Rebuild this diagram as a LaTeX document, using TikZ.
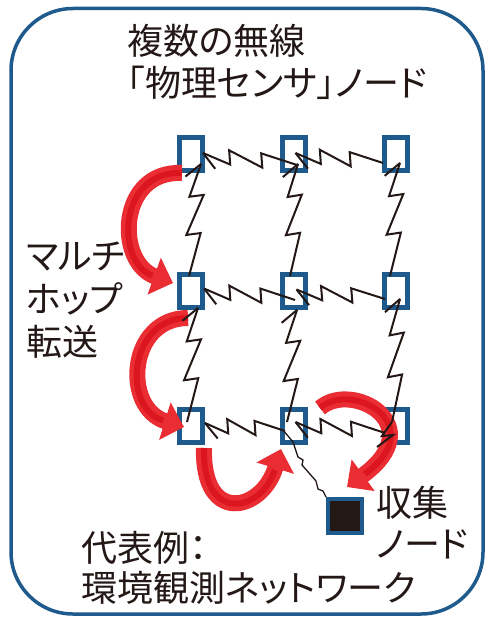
\documentclass[tikz,border=0pt]{standalone}
\usepackage{fontspec}
\newfontfamily\jp[RawFeature=+palt]{Noto Sans CJK JP}
\usetikzlibrary{calc,arrows.meta}
\definecolor{frameblue}{RGB}{31,90,140}
\definecolor{ink}{RGB}{35,24,21}
\definecolor{arrowred}{RGB}{233,45,50}
\definecolor{arrowcore}{RGB}{220,22,30}
\tikzset{
  frame/.style={draw=frameblue, line width=3.5pt, rounded corners=62pt},
  sensor/.style={draw=frameblue, line width=5pt, fill=white, minimum width=23pt, minimum height=33pt, inner sep=0pt},
  collector/.style={draw=frameblue, line width=4pt, fill=ink, minimum size=34pt, inner sep=0pt},
  zapline/.style={draw=ink, line width=2pt, line join=miter},
  wire/.style={draw=ink, line width=1.3pt},
  hop/.style={draw=arrowred, line width=16pt, -{Triangle[length=20pt,width=38pt]}},
  hopcore/.style={draw=arrowcore, line width=6pt, shorten >=22pt},
  label/.style={text=ink, inner sep=0pt, anchor=base west, font=\jp\fontsize{36}{42}\selectfont}
}
\newcommand\zap[2]{%
  \draw[zapline] (#1) -- ($(#1)!0.30!(#2)!8pt!-90:(#2)$) -- ($(#1)!0.27!(#2)!6pt!90:(#2)$)
     -- ($(#1)!0.64!(#2)!7pt!-90:(#2)$) -- ($(#1)!0.61!(#2)!7pt!90:(#2)$) -- (#2);
  \draw[zapline] (#1) -- ($(#1)!20pt!-45:(#2)$);}
\newcommand\hoparrow[1]{\draw[hop] #1; \draw[hopcore] #1;}
\begin{document}
\begin{tikzpicture}[x=1pt,y=-1pt]
\useasboundingbox (0,0) rectangle (485,617);
\draw[frame] (11,8.5) rectangle (483,614);

% sensor nodes
\node[sensor] (b11) at (191,154.5) {};
\node[sensor] (b12) at (293.5,154.5) {};
\node[sensor] (b13) at (396,154.5) {};
\node[sensor] (b21) at (191,290.5) {};
\node[sensor] (b22) at (293.5,290.5) {};
\node[sensor] (b23) at (396,290.5) {};
\node[sensor] (b31) at (191,426) {};
\node[sensor] (b32) at (293.5,426) {};
\node[sensor] (b33) at (396,426) {};
\node[collector] (col) at (345,516) {};

% red multi-hop arrows
\hoparrow{(182,173) .. controls (118,170) and (115,262) .. (173,283)}
\hoparrow{(188,318) .. controls (128,318) and (122,408) .. (184,427)}
\hoparrow{(204,448) .. controls (202,525) and (262,512) .. (281,449)}
\hoparrow{(320,408) .. controls (352,380) and (432,425) .. (347,487)}

% link endpoints
\coordinate (h11t) at (203,153);   \coordinate (h11s) at (297,165);
\coordinate (h12t) at (295.5,153); \coordinate (h12s) at (383,163);
\coordinate (h21t) at (204,288.5); \coordinate (h21s) at (295,300);
\coordinate (h22t) at (296.5,289.5); \coordinate (h22s) at (385,299);
\coordinate (h31t) at (205,423); \coordinate (h31s) at (285,431);
\coordinate (h32t) at (295.5,422); \coordinate (h32s) at (385,433);
\coordinate (v11t) at (201,164);   \coordinate (v11s) at (189,276);
\coordinate (v12t) at (198,308);   \coordinate (v12s) at (187,422);
\coordinate (v21t) at (298,164);   \coordinate (v21s) at (290,276);
\coordinate (v22t) at (297,310);   \coordinate (v22s) at (287,422);
\coordinate (v31t) at (400,163);   \coordinate (v31s) at (390,276);
\coordinate (v32t) at (400,299);   \coordinate (v32s) at (392,422);
\coordinate (cw) at (283,430);

% wireless links
\zap{h11t}{h11s} \zap{h12t}{h12s}
\zap{h21t}{h21s} \zap{h22t}{h22s}
\zap{h31t}{h31s} \zap{h32t}{h32s}
\zap{v11t}{v11s} \zap{v12t}{v12s}
\zap{v21t}{v21s} \zap{v22t}{v22s}
\zap{v31t}{v31s} \zap{v32t}{v32s}
\draw[zapline] (v32s) -- ++(-10,14) -- ++(11,-1) -- ++(-16,12);

% link to collector
\draw[wire] (cw) -- ++(10,12) -- ++(5,15) -- ++(5,3) -- ++(-1,5) -- ++(14,16) -- ++(2,8) -- ++(5,2) -- (col.north west);

% labels
\node[label] (t1) at (127,55) {複数の無線};
\node[label] (t2) at (127,97) {「物理センサ」ノード};
\node[label] (m1) at (26,269) {マルチ};
\node[label] (m2) at (26,312) {ホップ};
\node[label] (m3) at (26,355) {転送};
\node[label] (c1) at (376,516) {収集};
\node[label] (c2) at (376,557) {ノード};
\node[label] (e1) at (81,561) {代表例：};
\node[label] (e2) at (81,601) {環境観測ネットワーク};
\end{tikzpicture}
\end{document}
